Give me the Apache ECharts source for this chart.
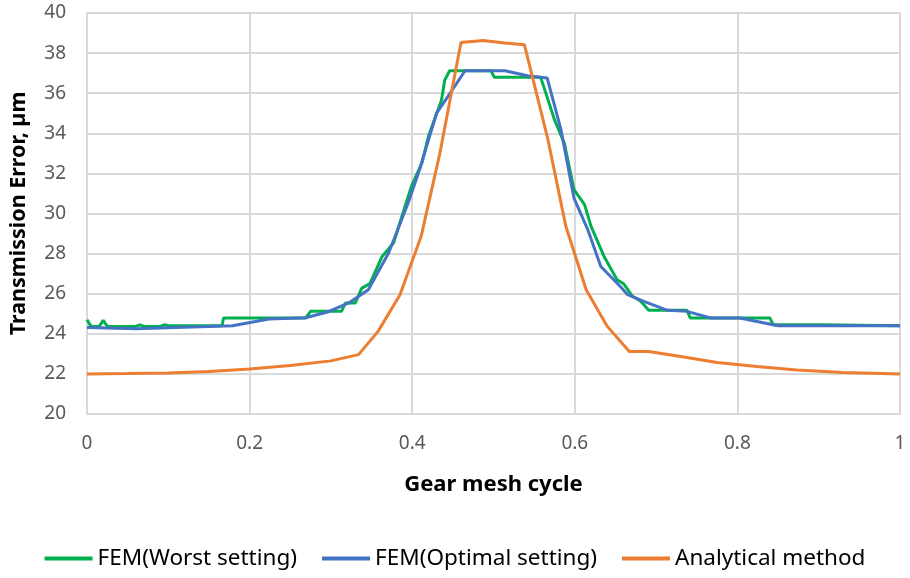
<!DOCTYPE html>
<html>
<head>
<meta charset="utf-8">
<script src="https://cdn.jsdelivr.net/npm/echarts@6/dist/echarts.min.js"></script>
<style>html,body{margin:0;padding:0;background:#fff}#c{width:910px;height:578px}</style>
</head>
<body>
<div id="c"></div>
<script>
const seriesNames = ['FEM(Worst setting)', 'FEM(Optimal setting)', 'Analytical method'];
const xTicks = [0, 0.2, 0.4, 0.6, 0.8, 1];
const yTicks = [20, 22, 24, 26, 28, 30, 32, 34, 36, 38, 40];

const worstX = [0,0.005,0.015,0.02,0.025,0.06,0.065,0.07,0.09,0.095,0.1,0.166,0.168,0.269,0.275,0.313,0.318,0.33,0.338,0.348,0.363,0.377,0.399,0.412,0.42,0.436,0.44,0.446,0.497,0.501,0.558,0.567,0.575,0.587,0.599,0.612,0.62,0.636,0.652,0.66,0.671,0.681,0.691,0.738,0.742,0.84,0.844,0.903,1];
const worstY = [24.7,24.37,24.37,24.67,24.37,24.37,24.45,24.37,24.37,24.45,24.4,24.4,24.79,24.79,25.12,25.12,25.54,25.54,26.28,26.5,27.86,28.53,31.35,32.52,33.85,35.65,36.65,37.12,37.12,36.79,36.79,35.68,34.68,33.52,31.19,30.44,29.36,27.86,26.7,26.5,25.87,25.62,25.17,25.17,24.79,24.79,24.45,24.45,24.4];

const optX = [0,0.06,0.179,0.224,0.269,0.297,0.322,0.346,0.371,0.395,0.409,0.43,0.444,0.465,0.514,0.542,0.566,0.583,0.599,0.616,0.632,0.656,0.665,0.685,0.714,0.738,0.767,0.803,0.85,1];
const optY = [24.32,24.25,24.4,24.74,24.8,25.1,25.54,26.2,28.03,30.52,32.18,35.01,35.84,37.12,37.12,36.87,36.76,34.18,30.77,29.19,27.36,26.36,25.95,25.62,25.17,25.12,24.79,24.79,24.4,24.4];

const anaX = [0,0.05,0.1,0.15,0.2,0.25,0.3,0.334,0.358,0.385,0.411,0.434,0.46,0.487,0.514,0.538,0.567,0.589,0.614,0.64,0.667,0.691,0.734,0.775,0.824,0.873,0.93,1];
const anaY = [22.0,22.02,22.05,22.12,22.25,22.42,22.65,22.96,24.12,25.95,28.86,33.0,38.53,38.63,38.5,38.42,33.68,29.36,26.2,24.37,23.12,23.12,22.84,22.57,22.37,22.2,22.07,22.0];

const colors = ['#00B050', '#4472C4', '#ED7D31'];
const zip = (xs, ys) => xs.map((x, i) => [x, ys[i]]);
const allData = [zip(worstX, worstY), zip(optX, optY), zip(anaX, anaY)];

const chart = echarts.init(document.getElementById('c'));
chart.setOption({
  animation: false,
  textStyle: { fontFamily: 'Noto Sans' },
  grid: { left: 82, right: 10, top: 13, bottom: 164, containLabel: false },
  legend: {
    top: 542, left: 'center',
    itemWidth: 48, itemHeight: 4, itemGap: 25, itemTextGap: 5,
    icon: 'rect',
    textStyle: { fontSize: 22.5, color: '#000', fontFamily: 'Noto Sans' },
    data: seriesNames
  },
  xAxis: {
    type: 'value', min: xTicks[0], max: xTicks[xTicks.length - 1], interval: 0.2,
    name: 'Gear mesh cycle', nameLocation: 'middle', nameGap: 60,
    nameTextStyle: { fontSize: 22, fontWeight: 'bold', color: '#000' },
    axisLine: { show: true, lineStyle: { color: '#d9d9d9', width: 2 } },
    axisTick: { show: false },
    axisLabel: { fontSize: 19, color: '#595959', margin: 20 },
    splitLine: { show: true, lineStyle: { color: '#d9d9d9', width: 2 } }
  },
  yAxis: {
    type: 'value', min: yTicks[0], max: yTicks[yTicks.length - 1], interval: 2,
    name: 'Transmission Error, µm', nameLocation: 'middle', nameGap: 57,
    nameTextStyle: { fontSize: 21.5, fontWeight: 'bold', color: '#000' },
    axisLine: { show: true, lineStyle: { color: '#d9d9d9', width: 2 } },
    axisTick: { show: false },
    axisLabel: { fontSize: 19, color: '#595959', margin: 21 },
    splitLine: { show: true, lineStyle: { color: '#d9d9d9', width: 2 } }
  },
  series: seriesNames.map((n, i) => ({
    name: n, type: 'line', data: allData[i], showSymbol: false, symbol: 'none',
    lineStyle: { color: colors[i], width: 3 }, itemStyle: { color: colors[i] },
    z: 2 + i
  }))
});
</script>
</body>
</html>
